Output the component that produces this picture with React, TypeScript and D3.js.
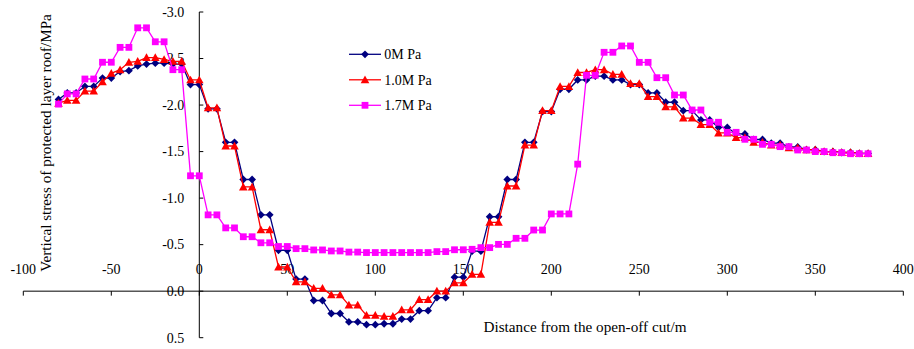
import React from "react";
import * as d3 from "d3";

// Distance from the open-off cut (m), sampled every 5 m
const distances: number[] = d3.range(-80, 381, 5);

// Vertical stress of the protected layer roof (MPa), negative = compression
const stress0: number[] = [
  -2.06, -2.13, -2.13, -2.2, -2.2, -2.29, -2.29, -2.36, -2.37, -2.42, -2.44, -2.45, -2.45, -2.44, -2.44, -2.22, -2.22,
  -1.96, -1.96, -1.6, -1.6, -1.2, -1.2, -0.82, -0.82, -0.44, -0.44, -0.13, -0.13, 0.1, 0.1, 0.24, 0.24,
  0.33, 0.33, 0.36, 0.36, 0.35, 0.35, 0.3, 0.3, 0.21, 0.21, 0.07, 0.07, -0.15, -0.15, -0.43, -0.43,
  -0.8, -0.8, -1.2, -1.2, -1.6, -1.6, -1.93, -1.93, -2.17, -2.17, -2.27, -2.27, -2.31, -2.31, -2.27, -2.27,
  -2.22, -2.22, -2.13, -2.13, -2.03, -2.03, -1.94, -1.94, -1.84, -1.84, -1.76, -1.76, -1.69, -1.69, -1.63, -1.63,
  -1.59, -1.59, -1.55, -1.55, -1.52, -1.52, -1.5, -1.5, -1.49, -1.49, -1.48, -1.48,
];

const stress10: number[] = [
  -2.02, -2.05, -2.05, -2.15, -2.15, -2.25, -2.34, -2.38, -2.46, -2.47, -2.51, -2.51, -2.49, -2.47, -2.47, -2.27, -2.27,
  -1.97, -1.97, -1.56, -1.56, -1.12, -1.12, -0.66, -0.66, -0.26, -0.26, -0.1, -0.1, -0.03, -0.03, 0.04, 0.04,
  0.15, 0.15, 0.26, 0.26, 0.27, 0.27, 0.2, 0.2, 0.09, 0.09, 0.0, 0.0, -0.09, -0.09, -0.18, -0.18,
  -0.74, -0.74, -1.13, -1.13, -1.57, -1.57, -1.94, -1.94, -2.2, -2.2, -2.35, -2.35, -2.38, -2.38, -2.33, -2.33,
  -2.23, -2.23, -2.09, -2.09, -1.98, -1.98, -1.86, -1.86, -1.79, -1.79, -1.7, -1.7, -1.65, -1.65, -1.6, -1.6,
  -1.57, -1.57, -1.54, -1.54, -1.52, -1.52, -1.5, -1.5, -1.49, -1.49, -1.48, -1.48,
];

const stress17: number[] = [
  -2.01, -2.12, -2.12, -2.28, -2.28, -2.46, -2.46, -2.62, -2.62, -2.83, -2.83, -2.68, -2.68, -2.38, -2.38, -1.24, -1.24,
  -0.82, -0.82, -0.68, -0.68, -0.585, -0.585, -0.52, -0.52, -0.48, -0.48, -0.457, -0.457, -0.443, -0.443, -0.432, -0.432,
  -0.42, -0.42, -0.415, -0.415, -0.415, -0.415, -0.415, -0.415, -0.415, -0.415, -0.425, -0.425, -0.445, -0.445, -0.45, -0.468,
  -0.468, -0.503, -0.503, -0.568, -0.568, -0.657, -0.657, -0.83, -0.83, -0.83, -1.365, -2.32, -2.32, -2.567, -2.567, -2.635,
  -2.635, -2.459, -2.459, -2.294, -2.294, -2.108, -2.108, -1.947, -1.947, -1.815, -1.815, -1.707, -1.707, -1.632, -1.632, -1.578,
  -1.578, -1.553, -1.553, -1.517, -1.517, -1.5, -1.5, -1.488, -1.488, -1.477, -1.477, -1.477,
];

const seriesNames: string[] = ["0M Pa", "1.0M Pa", "1.7M Pa"];
const seriesColors: string[] = ["#000080", "#FF0000", "#FF00FF"];
const seriesValues: number[][] = [stress0, stress10, stress17];
const seriesShapes: string[] = ["diamond", "triangle", "square"];

const xTicks: number[] = d3.range(-100, 401, 50);
const yTicks: number[] = d3.range(-3, 0.51, 0.5);

const W = 914;
const H = 349;
const FONT = "'Liberation Serif', 'Times New Roman', serif";

const x = d3.scaleLinear().domain([-100, 400]).range([23.3, 903.3]);
const y = d3.scaleLinear().domain([-3, 0.5]).range([12, 337.7]);

function Marker({ shape, cx, cy, color }: { shape: string; cx: number; cy: number; color: string }) {
  if (shape === "diamond") {
    const r = 3.9;
    return <path d={`M${cx},${cy - r}L${cx + r},${cy}L${cx},${cy + r}L${cx - r},${cy}Z`} fill={color} />;
  }
  if (shape === "triangle") {
    const s = 4.3;
    return <path d={`M${cx},${cy - s}L${cx + s},${cy + s * 0.8}L${cx - s},${cy + s * 0.8}Z`} fill={color} />;
  }
  const h = 3.4;
  return <rect x={cx - h} y={cy - h} width={h * 2} height={h * 2} fill={color} />;
}

export default function App() {
  const line = d3
    .line<number>()
    .x((_, i) => x(distances[i]))
    .y((v) => y(v));

  const legendY = [54.3, 79.8, 105.3];

  return (
    <svg
      width={W}
      height={H}
      style={{ position: "absolute", left: 0, top: 0, background: "#fff" }}
      fontFamily={FONT}
    >
      <rect width={W} height={H} fill="#fff" />

      {/* axes */}
      <line x1={x(-100)} x2={x(400)} y1={y(0)} y2={y(0)} stroke="#000" strokeWidth={1} />
      {xTicks.map((t) => (
        <g key={`xt${t}`}>
          <line x1={x(t)} x2={x(t)} y1={y(0)} y2={y(0) + 4.5} stroke="#000" strokeWidth={1} />
          <text x={x(t)} y={274.3} fontSize={14} textAnchor="middle" fill="#000">
            {t}
          </text>
        </g>
      ))}
      <line x1={x(0)} x2={x(0)} y1={y(-3)} y2={y(0.5)} stroke="#000" strokeWidth={1} />
      {yTicks.map((t) => (
        <g key={`yt${t}`}>
          <line x1={x(0)} x2={x(0) + 4} y1={y(t)} y2={y(t)} stroke="#000" strokeWidth={1} />
          <text x={184.3} y={y(t) + 4.8} fontSize={14} textAnchor="end" fill="#000">
            {t.toFixed(1)}
          </text>
        </g>
      ))}

      {/* axis titles */}
      <text
        transform={`translate(50.5,143) rotate(-90)`}
        fontSize={15.2}
        textAnchor="middle"
        fill="#000"
      >
        Vertical stress of protected layer roof/MPa
      </text>
      <text x={585} y={331.5} fontSize={15.2} textAnchor="middle" fill="#000">
        Distance from the open-off cut/m
      </text>

      {/* series */}
      {seriesValues.map((vals, si) => (
        <g key={`s${si}`}>
          <path d={line(vals) || ""} fill="none" stroke={seriesColors[si]} strokeWidth={1.3} />
          {vals.map((v, i) => (
            <Marker key={i} shape={seriesShapes[si]} cx={x(distances[i])} cy={y(v)} color={seriesColors[si]} />
          ))}
        </g>
      ))}

      {/* legend */}
      {seriesNames.map((name, si) => (
        <g key={`lg${si}`}>
          <line x1={349} x2={381} y1={legendY[si]} y2={legendY[si]} stroke={seriesColors[si]} strokeWidth={1.3} />
          <Marker shape={seriesShapes[si]} cx={365} cy={legendY[si]} color={seriesColors[si]} />
          <text x={384.3} y={legendY[si] + 4.8} fontSize={14} fill="#000">
            {name}
          </text>
        </g>
      ))}
    </svg>
  );
}
